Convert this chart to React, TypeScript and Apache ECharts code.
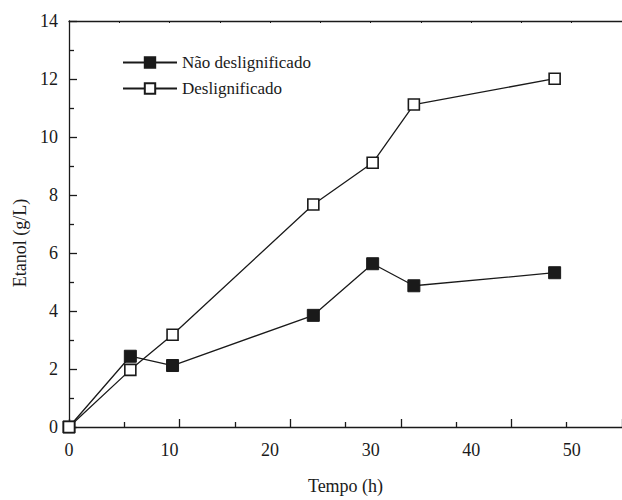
import React, { useEffect, useRef } from "react";
import * as echarts from "echarts";

const seriesNames = ["Não deslignificado", "Deslignificado"];
const timeNao = [0, 6.1, 10.3, 24.3, 30.2, 34.3, 48.3];
const etanolNao = [0, 2.44, 2.12, 3.85, 5.63, 4.87, 5.32];
const timeDes = [0, 6.1, 10.3, 24.3, 30.2, 34.3, 48.3];
const etanolDes = [0, 1.97, 3.18, 7.67, 9.11, 11.12, 12.01];
const xAxisName = "Tempo (h)";
const yAxisName = "Etanol (g/L)";

const FONT = "'Liberation Serif', 'Times New Roman', serif";
const INK = "#1a1a1a";

export default function App() {
  const ref = useRef<HTMLDivElement>(null);
  useEffect(() => {
    if (!ref.current) return;
    const chart = echarts.init(ref.current, undefined, { renderer: "svg" });
    const pair = (xs: number[], ys: number[]) => xs.map((x, i) => [x, ys[i]]);
    chart.setOption({
      animation: false,
      backgroundColor: "#ffffff",
      textStyle: { fontFamily: FONT, color: INK },
      grid: { left: 69, right: 0, top: 21, bottom: 68, containLabel: false },
      legend: {
        orient: "vertical",
        left: 117,
        top: 49,
        itemWidth: 54,
        itemHeight: 13,
        itemGap: 9,
        textStyle: { fontFamily: FONT, fontSize: 17, color: INK },
        data: seriesNames,
      },
      xAxis: [
        {
          type: "value",
          position: "bottom",
          min: 0,
          max: 55,
          interval: 10,
          name: xAxisName,
          nameLocation: "middle",
          nameGap: 50,
          nameTextStyle: { fontFamily: FONT, fontSize: 18, color: INK },
          axisLine: { show: true, lineStyle: { color: INK, width: 1.3 } },
          axisTick: { show: false },
          axisLabel: {
            fontFamily: FONT,
            fontSize: 18,
            color: INK,
            margin: 14,
            showMaxLabel: false,
          },
          splitLine: { show: false },
        },
        {
          type: "value",
          position: "bottom",
          min: 0,
          max: 55,
          interval: 11,
          axisLine: { show: false },
          axisTick: { show: true, inside: true, length: 8, lineStyle: { color: INK, width: 1.3 } },
          minorTick: { show: true, splitNumber: 2, length: 5, lineStyle: { color: INK, width: 1.3 } },
          axisLabel: { show: false },
          splitLine: { show: false },
        },
        {
          type: "value",
          position: "top",
          min: 0,
          max: 55,
          interval: 5,
          axisLine: { show: true, lineStyle: { color: INK, width: 1.3 } },
          axisTick: { show: true, inside: true, length: 2, lineStyle: { color: INK, width: 1 } },
          axisLabel: { show: false },
          splitLine: { show: false },
        },
      ],
      yAxis: {
        type: "value",
        min: 0,
        max: 14,
        interval: 2,
        name: yAxisName,
        nameLocation: "middle",
        nameGap: 40,
        nameRotate: 90,
        nameTextStyle: { fontFamily: FONT, fontSize: 18, color: INK, padding: [0, 38, 0, 0] },
        axisLine: { show: true, lineStyle: { color: INK, width: 1.3 } },
        axisTick: { show: true, inside: true, length: 8, lineStyle: { color: INK, width: 1.3 } },
        minorTick: { show: true, splitNumber: 2, length: 5, lineStyle: { color: INK, width: 1.3 } },
        axisLabel: { fontFamily: FONT, fontSize: 18, color: INK, margin: 11 },
        splitLine: { show: false },
      },
      series: [
        {
          name: seriesNames[0],
          type: "line",
          xAxisIndex: 0,
          data: pair(timeNao, etanolNao),
          symbol: "rect",
          symbolSize: 12,
          showAllSymbol: true,
          lineStyle: { color: INK, width: 1.3 },
          itemStyle: { color: INK, borderColor: INK, borderWidth: 1 },
          emphasis: { disabled: true },
          z: 3,
        },
        {
          name: seriesNames[1],
          type: "line",
          xAxisIndex: 0,
          data: pair(timeDes, etanolDes),
          symbol: "rect",
          symbolSize: 11,
          showAllSymbol: true,
          lineStyle: { color: INK, width: 1.3 },
          itemStyle: { color: "#ffffff", borderColor: INK, borderWidth: 1.6 },
          emphasis: { disabled: true },
          z: 4,
        },
      ],
    });
    return () => chart.dispose();
  }, []);
  return (
    <div
      ref={ref}
      style={{ position: "fixed", left: 0, top: 0, width: 622, height: 500 }}
    />
  );
}
